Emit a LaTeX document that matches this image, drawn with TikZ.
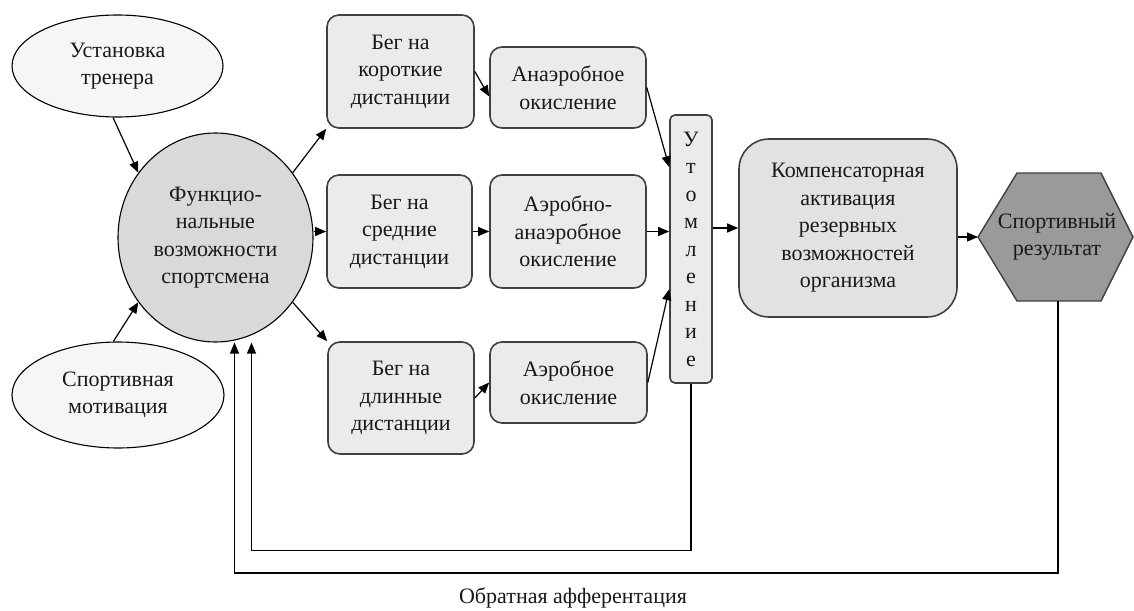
\documentclass[tikz,border=0pt]{standalone}
\usepackage{fontspec}
\setmainfont{Liberation Serif}
\usetikzlibrary{arrows.meta, shapes.geometric, calc}
\definecolor{ovalfill}{HTML}{F6F6F6}
\definecolor{funfill}{HTML}{D9D9D9}
\definecolor{boxfill}{HTML}{EBEBEB}
\definecolor{kompfill}{HTML}{E2E2E2}
\definecolor{hexfill}{HTML}{9A9A9A}
\definecolor{rimgray}{HTML}{404040}

\begin{document}
\begin{tikzpicture}[x=1pt, y=-1pt,
          every node/.style={font=\fontsize{22}{27.5}\selectfont, text=black!90},
          oval/.style={draw, ellipse, fill=ovalfill, line width=1.1pt,
                       align=center, inner sep=0pt},
          nd/.style={draw=rimgray, rounded corners=12pt, fill=boxfill,
                     line width=1.6pt, align=center, inner sep=0pt},
          arr/.style={-{Triangle[length=11pt, width=9pt]}, line width=1.2pt}]
        \useasboundingbox (0,0) rectangle (1134,610);
        \node[oval, minimum width=211, minimum height=102] (ust) at (117.5,66) {Установка\\тренера};
        \node[oval, minimum width=212, minimum height=106] (mot) at (118,395) {Спортивная\\мотивация};
        \node[oval, fill=funfill, minimum width=195, minimum height=209]
          (fun) at (215.5,237.5) {Функцио-\\нальные\\возможности\\спортсмена};
        \node[nd, minimum width=147, minimum height=113] (kor) at (400.5,71.5) {Бег на\\короткие\\дистанции};
        \node[nd, minimum width=145, minimum height=113] (sred) at (399.5,231.5) {Бег на\\средние\\дистанции};
        \node[nd, minimum width=146, minimum height=112] (dlin) at (401,398) {Бег на\\длинные\\дистанции};
        \node[nd, minimum width=156, minimum height=81] (anaer) at (568,87.5) {Анаэробное\\окисление};
        \node[nd, minimum width=156, minimum height=113] (mix) at (568,231.5) {Аэробно-\\анаэробное\\окисление};
        \node[nd, minimum width=157, minimum height=81] (aer) at (568.5,382.5) {Аэробное\\окисление};
        \node[nd, rounded corners=5pt, minimum width=42, minimum height=268]
          (ut) at (691,249) {У\\т\\о\\м\\л\\е\\н\\и\\е};
        \node[nd, fill=kompfill, rounded corners=30pt, minimum width=218, minimum height=178]
          (komp) at (848,228) {Компенсаторная\\активация\\резервных\\возможностей\\организма};
        \draw[line width=1.4pt, draw=rimgray, fill=hexfill]
          (978,237) coordinate (resW) -- (1017,173) -- (1101,173) -- (1133,237)
          -- (1101,301) -- (1058,301) coordinate (resS) -- (1017,301) -- cycle;
        \node[align=center] (res) at (1057,237) {Спортивный\\результат};
        \node (feed) at (573,598) {Обратная афферентация};
        \draw[arr] (ust.-95) -- (fun.140);
        \draw[arr] (mot.95) -- (fun.-140);
        \draw[arr] (fun.40) -- (kor.south west);
        \draw[arr] (fun.east |- sred.west) -- (sred.west);
        \draw[arr] (fun.-40) -- (dlin.north west);
        \draw[arr] (kor.east) -- ($(anaer.west)+(0,9)$);
        \draw[arr] (sred.east) -- (mix.west);
        \draw[arr] (dlin.east) -- (aer.west);
        \draw[arr] (anaer.east) -- ($(ut.north west)+(0,53)$);
        \draw[arr] (mix.east) -- (ut.west |- mix.east);
        \draw[arr] (aer.east) -- ($(ut.north west)+(0,175)$);
        \draw[arr] (ut.east |- komp.west) -- (komp.west);
        \draw[arr] (komp.east |- resW) -- (resW);
        \draw[arr] (ut.south) -- ++(0,167) -| ($(fun.south)+(36,0)$);
        \draw[arr] (resS) -- ++(0,272) -| ($(fun.south)+(19,0)$);
      \end{tikzpicture}
\end{document}
